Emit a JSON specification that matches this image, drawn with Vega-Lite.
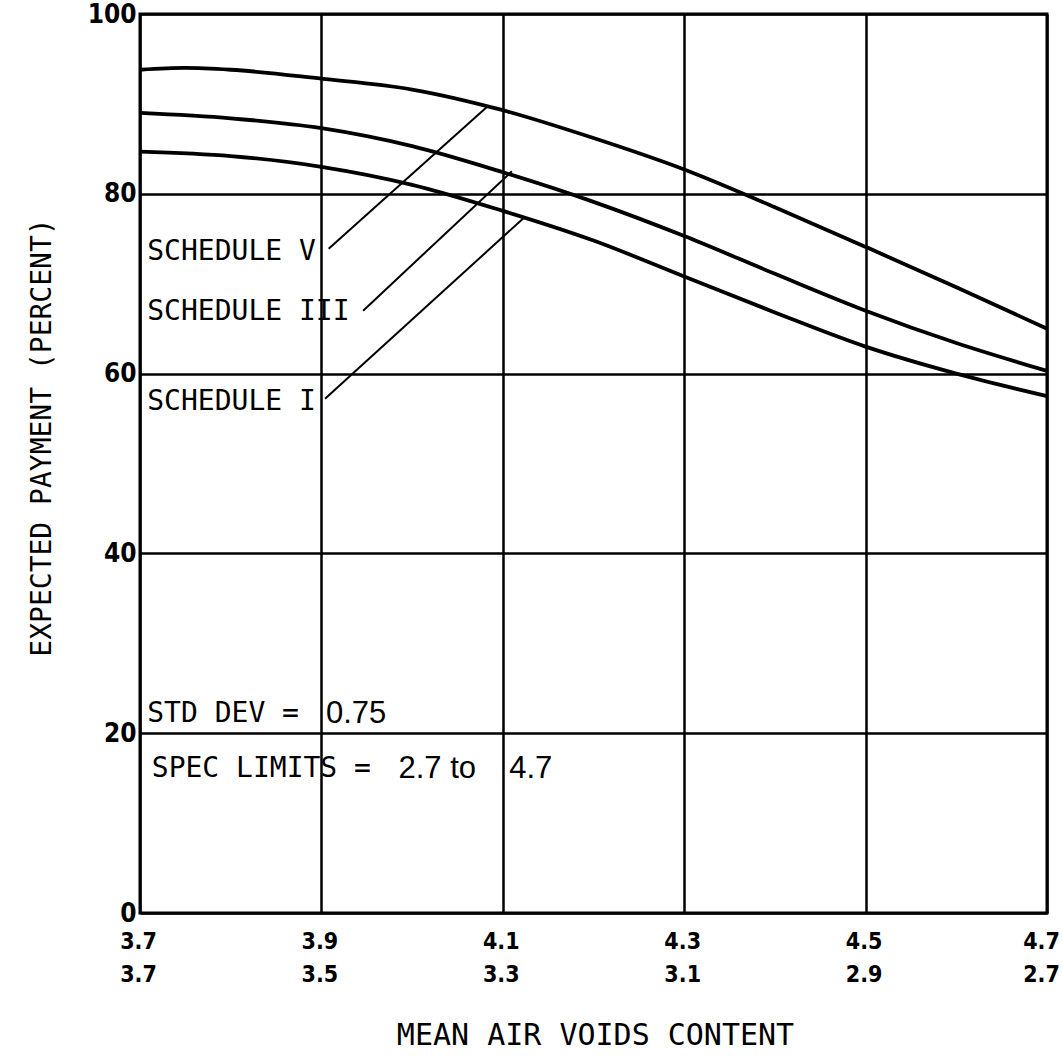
{
  "$schema": "https://vega.github.io/schema/vega-lite/v6.json",
  "width": 907,
  "height": 899,
  "autosize": {"type": "none"},
  "padding": {"left": 140, "top": 14, "right": 15, "bottom": 151},
  "background": "white",
  "config": {
    "view": {"stroke": "black", "strokeWidth": 3},
    "axis": {
      "grid": true, "gridColor": "black", "gridWidth": 2.5, "gridOpacity": 1,
      "domain": false, "ticks": false,
      "labelColor": "black", "titleColor": "black"
    }
  },
  "datasets": {
    "curves": [
      {"schedule": "V", "x": 3.7, "y": 93.8}, {"schedule": "V", "x": 3.75, "y": 94.0}, {"schedule": "V", "x": 3.8, "y": 93.8},
      {"schedule": "V", "x": 3.9, "y": 92.8}, {"schedule": "V", "x": 4.0, "y": 91.6}, {"schedule": "V", "x": 4.1, "y": 89.3},
      {"schedule": "V", "x": 4.2, "y": 86.2}, {"schedule": "V", "x": 4.3, "y": 82.7}, {"schedule": "V", "x": 4.4, "y": 78.5},
      {"schedule": "V", "x": 4.5, "y": 74.1}, {"schedule": "V", "x": 4.6, "y": 69.6}, {"schedule": "V", "x": 4.7, "y": 65.0},
      {"schedule": "III", "x": 3.7, "y": 89.0}, {"schedule": "III", "x": 3.8, "y": 88.4}, {"schedule": "III", "x": 3.9, "y": 87.3},
      {"schedule": "III", "x": 4.0, "y": 85.3}, {"schedule": "III", "x": 4.1, "y": 82.4}, {"schedule": "III", "x": 4.2, "y": 79.1},
      {"schedule": "III", "x": 4.3, "y": 75.3}, {"schedule": "III", "x": 4.4, "y": 71.1}, {"schedule": "III", "x": 4.5, "y": 67.0},
      {"schedule": "III", "x": 4.6, "y": 63.4}, {"schedule": "III", "x": 4.7, "y": 60.3},
      {"schedule": "I", "x": 3.7, "y": 84.7}, {"schedule": "I", "x": 3.8, "y": 84.2}, {"schedule": "I", "x": 3.9, "y": 83.0},
      {"schedule": "I", "x": 4.0, "y": 81.0}, {"schedule": "I", "x": 4.1, "y": 78.1}, {"schedule": "I", "x": 4.2, "y": 74.8},
      {"schedule": "I", "x": 4.3, "y": 70.8}, {"schedule": "I", "x": 4.4, "y": 66.8}, {"schedule": "I", "x": 4.5, "y": 63.0},
      {"schedule": "I", "x": 4.6, "y": 60.0}, {"schedule": "I", "x": 4.7, "y": 57.5}
    ],
    "leaders": [
      {"schedule": "V", "x": 3.908, "y": 73.9, "x2": 4.084, "y2": 89.8},
      {"schedule": "III", "x": 3.946, "y": 67.0, "x2": 4.110, "y2": 82.5},
      {"schedule": "I", "x": 3.904, "y": 57.2, "x2": 4.124, "y2": 77.4}
    ],
    "monoText": [
      {"x": 3.708, "y": 73.5, "text": "SCHEDULE V"},
      {"x": 3.708, "y": 66.9, "text": "SCHEDULE III"},
      {"x": 3.708, "y": 56.8, "text": "SCHEDULE I"},
      {"x": 3.708, "y": 22.1, "text": "STD DEV  ="},
      {"x": 3.713, "y": 16.0, "text": "SPEC LIMITS ="}
    ],
    "sansText": [
      {"x": 3.905, "y": 22.1, "text": "0.75"},
      {"x": 3.985, "y": 16.0, "text": "2.7 to"},
      {"x": 4.107, "y": 16.0, "text": "4.7"}
    ]
  },
  "layer": [
    {
      "data": {"name": "curves"},
      "mark": {"type": "line", "color": "black", "strokeWidth": 3.8, "interpolate": "monotone"},
      "encoding": {
        "x": {
          "field": "x", "type": "quantitative",
          "scale": {"domain": [3.7, 4.7], "nice": false, "zero": false},
          "axis": {
            "values": [3.7, 3.9, 4.1, 4.3, 4.5, 4.7],
            "labelExpr": "[format(datum.value, '.1f'), format(7.4 - datum.value, '.1f')]",
            "labelFont": "'DejaVu Sans Condensed', 'Liberation Sans'", "labelFontWeight": "bold", "labelFontSize": 23,
            "labelLineHeight": 33, "labelPadding": 17, "labelFlush": false, "labelBaseline": "top",
            "labelOffset": {"condition": {"test": "datum.value > 4.65", "value": -6}, "value": -2},
            "title": "MEAN AIR VOIDS CONTENT",
            "titleFont": "DejaVu Sans Mono", "titleFontWeight": "normal", "titleFontSize": 30,
            "titleX": 455, "titleY": 122, "titleBaseline": "middle", "titleAnchor": "middle"
          }
        },
        "y": {
          "field": "y", "type": "quantitative",
          "scale": {"domain": [0, 100], "nice": false},
          "axis": {
            "values": [0, 20, 40, 60, 80, 100],
            "labelFont": "'DejaVu Sans Condensed', 'Liberation Sans'", "labelFontWeight": "bold", "labelFontSize": 26,
            "labelPadding": 4,
            "title": "EXPECTED PAYMENT (PERCENT)",
            "titleFont": "DejaVu Sans Mono", "titleFontWeight": "normal", "titleFontSize": 28,
            "titleX": -98, "titleY": 423, "titleBaseline": "middle", "titleAngle": -90, "titleAnchor": "middle"
          }
        },
        "detail": {"field": "schedule"}
      }
    },
    {
      "data": {"name": "leaders"},
      "mark": {"type": "rule", "color": "black", "strokeWidth": 2},
      "encoding": {
        "x": {"field": "x", "type": "quantitative"},
        "y": {"field": "y", "type": "quantitative"},
        "x2": {"field": "x2"},
        "y2": {"field": "y2"}
      }
    },
    {
      "data": {"name": "monoText"},
      "mark": {"type": "text", "font": "DejaVu Sans Mono", "fontSize": 28, "align": "left", "baseline": "middle", "color": "black"},
      "encoding": {
        "x": {"field": "x", "type": "quantitative"},
        "y": {"field": "y", "type": "quantitative"},
        "text": {"field": "text"}
      }
    },
    {
      "data": {"name": "sansText"},
      "mark": {"type": "text", "font": "Liberation Sans", "fontSize": 31, "align": "left", "baseline": "middle", "color": "black"},
      "encoding": {
        "x": {"field": "x", "type": "quantitative"},
        "y": {"field": "y", "type": "quantitative"},
        "text": {"field": "text"}
      }
    }
  ]
}
